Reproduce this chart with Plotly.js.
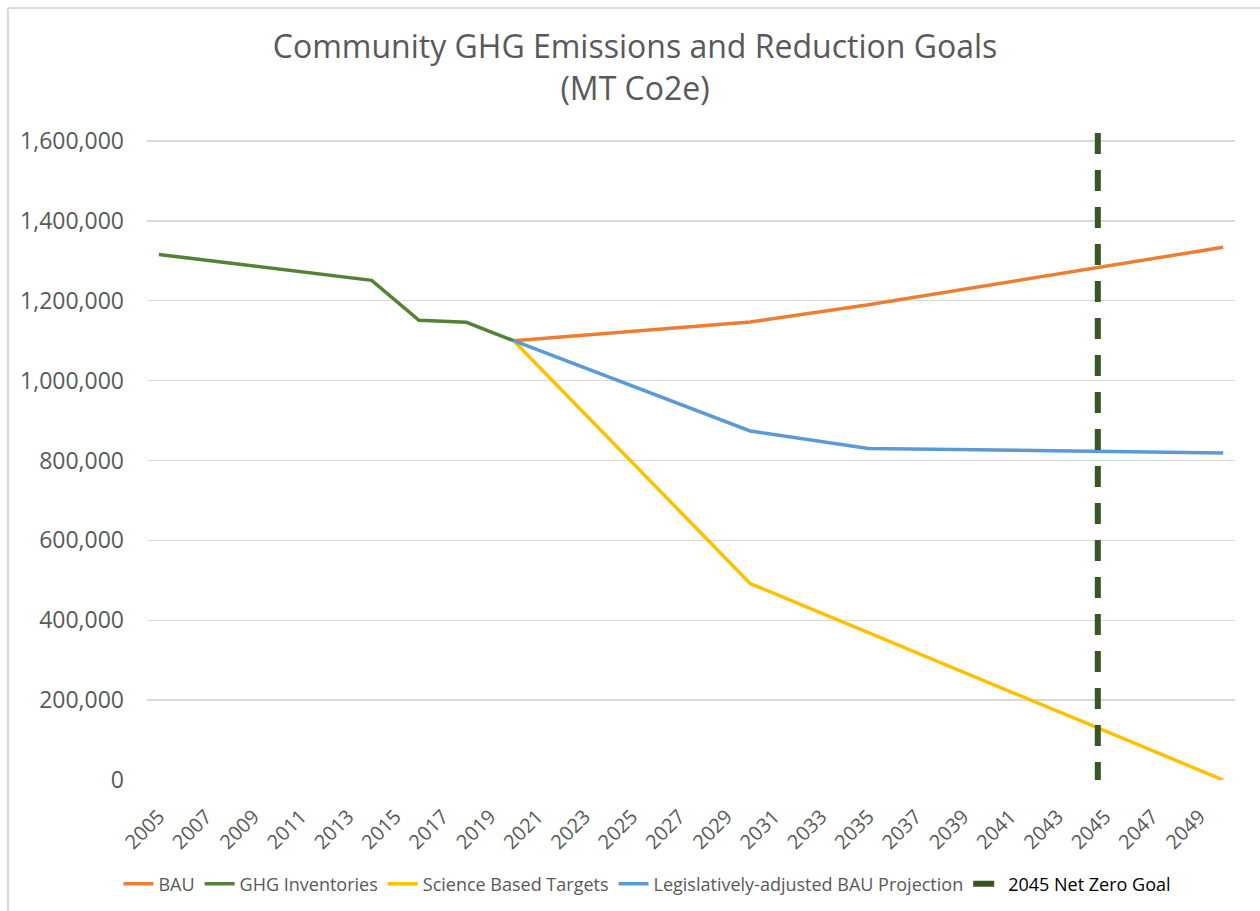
<!DOCTYPE html>
<html>
<head>
<meta charset="utf-8">
<script src="https://cdn.plot.ly/plotly-3.0.1.min.js"></script>
<style>html,body{margin:0;padding:0;background:#fff;}#chart{width:1260px;height:911px;}</style>
</head>
<body>
<div id="chart"></div>
<script>
// ---- Data ----
const ghgYears = [2005, 2014, 2016, 2018, 2020];
const ghgValues = [1316000, 1251000, 1151000, 1146000, 1100000];

const bauYears = [2020, 2025, 2030, 2035, 2040, 2045, 2050];
const bauValues = [1100000, 1123000, 1147000, 1190000, 1238000, 1286000, 1334000];

const sbtYears = [2020, 2030, 2050];
const sbtValues = [1100000, 492000, 0];

const legYears = [2020, 2025, 2030, 2035, 2040, 2045, 2050];
const legValues = [1100000, 987000, 874000, 830000, 827000, 823000, 819000];

const netZeroX = [2044.7, 2044.7];
const netZeroY = [1620000, 0];

const xTickYears = [2005,2007,2009,2011,2013,2015,2017,2019,2021,2023,2025,2027,2029,2031,2033,2035,2037,2039,2041,2043,2045,2047,2049];
const yTickValues = [0, 200000, 400000, 600000, 800000, 1000000, 1200000, 1400000, 1600000];

const FONT = "'Open Sans', 'Liberation Sans', sans-serif";
const GREY = '#595959';

const traces = [
  {x: bauYears, y: bauValues, name: 'BAU', mode: 'lines', line: {color: '#ED7D31', width: 3.5}},
  {x: ghgYears, y: ghgValues, name: 'GHG Inventories', mode: 'lines', line: {color: '#548235', width: 3.5}},
  {x: sbtYears, y: sbtValues, name: 'Science Based Targets', mode: 'lines', line: {color: '#FFC000', width: 3.5}},
  {x: legYears, y: legValues, name: 'Legislatively-adjusted BAU Projection', mode: 'lines', line: {color: '#5B9BD5', width: 3.5}},
  {x: netZeroX, y: netZeroY, name: '<span style="color:#000000">2045 Net Zero Goal</span>', mode: 'lines', line: {color: '#375623', width: 6, dash: '21px,16px'}}
];

// plot area: x 147..1235, y 131..780
const L = 147, R = 1260 - 1235, T = 131, B = 911 - 780;
const PW = 1260 - L - R, PH = 911 - T - B;
const px = v => (v - L) / PW;
const py = v => (780 - v) / PH;

const layout = {
  width: 1260, height: 911,
  margin: {l: L, r: R, t: T, b: B, pad: 0, autoexpand: false},
  paper_bgcolor: '#ffffff', plot_bgcolor: '#ffffff',
  font: {family: FONT, color: GREY},
  title: {
    text: 'Community GHG Emissions and Reduction Goals<br>(MT Co2e)',
    font: {family: FONT, size: 32, color: GREY},
    x: 0.504, xanchor: 'center', y: 0.936, yanchor: 'middle'
  },
  showlegend: true,
  legend: {
    orientation: 'h', x: 0.46, xanchor: 'center', y: py(884), yanchor: 'middle',
    font: {family: FONT, size: 18, color: GREY},
    itemwidth: 30, tracegroupgap: 0
  },
  xaxis: {
    type: 'linear', range: [2004.5, 2050.5],
    tickmode: 'array', tickvals: xTickYears, ticktext: xTickYears.map(String),
    tickangle: -45, tickfont: {family: FONT, size: 20, color: GREY},
    ticks: 'outside', ticklen: 16, tickcolor: 'rgba(0,0,0,0)',
    showgrid: false, zeroline: false, showline: false, fixedrange: true
  },
  yaxis: {
    range: [0, 1625000],
    tickmode: 'array', tickvals: yTickValues, tickformat: ',',
    tickfont: {family: FONT, size: 23, color: GREY},
    showgrid: true, gridcolor: '#D9D9D9', gridwidth: 1.3,
    zeroline: false, showline: false, ticks: '', ticklen: 0,
    ticklabelstandoff: 22, fixedrange: true
  },
  shapes: [
    {type: 'line', xref: 'paper', yref: 'paper', x0: px(8), x1: px(8), y0: py(8), y1: py(911), line: {color: '#D9D9D9', width: 2}},
    {type: 'line', xref: 'paper', yref: 'paper', x0: px(8), x1: px(1260), y0: py(8), y1: py(8), line: {color: '#D9D9D9', width: 2}}
  ]
};

Plotly.newPlot('chart', traces, layout, {displayModeBar: false, staticPlot: true});
</script>
</body>
</html>
